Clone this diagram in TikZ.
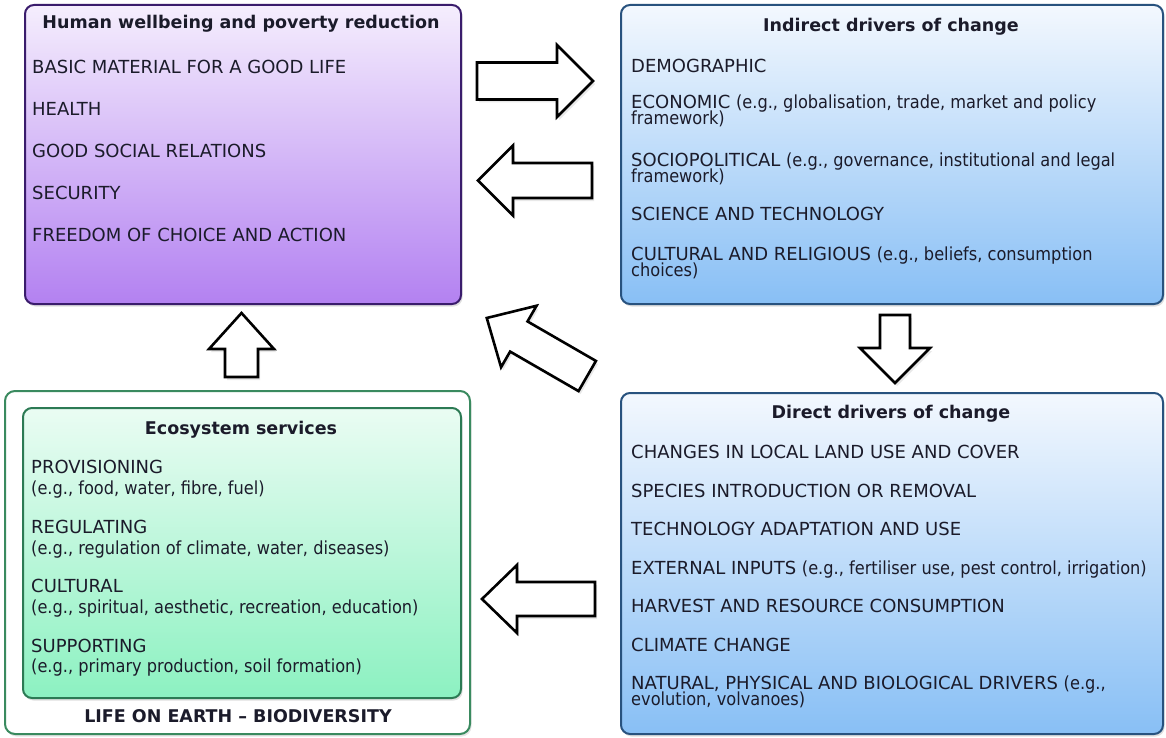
\documentclass[tikz,border=0pt]{standalone}
\usepackage{fontspec}
\setmainfont{DejaVu Sans}
\newfontfamily\narrowfont[FakeStretch=0.9]{DejaVu Sans}
\usetikzlibrary{shadows}

\definecolor{txt}{HTML}{1B1B2A}
\definecolor{purpEdge}{HTML}{3A1C6C}
\definecolor{purpTop}{HTML}{F5EEFD}
\definecolor{purpBot}{HTML}{B381F1}
\definecolor{blueEdge}{HTML}{28527E}
\definecolor{blueTop}{HTML}{F3F8FE}
\definecolor{blueBot}{HTML}{88BFF5}
\definecolor{greenEdge}{HTML}{2C7A54}
\definecolor{greenTop}{HTML}{EAFCF3}
\definecolor{greenBot}{HTML}{8CF1C1}
\definecolor{outerEdge}{HTML}{3A8A5F}

\newcommand\itemfont{\fontsize{18}{18}\selectfont}
\newcommand\hdrfont{\fontsize{17.5}{17.5}\selectfont\bfseries}
% lower-case remarks are set a little narrower than the capitals
\newcommand\lc[1]{{\narrowfont #1}}

% block arrow: #1 centre, #2 direction angle, #3 length,
% #4 half shaft width, #5 half head width, #6 head length
\newcommand\blockarr[6]{%
  \begin{scope}[shift={#1}, rotate=#2]
    \draw[blockarrow] (-#3/2,-#4) -- (#3/2-#6,-#4) -- (#3/2-#6,-#5) -- (#3/2,0)
      -- (#3/2-#6,#5) -- (#3/2-#6,#4) -- (-#3/2,#4) -- cycle;
  \end{scope}}

\begin{document}
\begin{tikzpicture}[x=1pt, y=-1pt,
  panel/.style={rounded corners=9pt, line width=2pt, inner sep=0pt, anchor=north west,
    drop shadow={opacity=0.25, shadow xshift=1.5pt, shadow yshift=-2.5pt}},
  purplebox/.style={panel, draw=purpEdge, top color=purpTop, bottom color=purpBot},
  bluebox/.style={panel, draw=blueEdge, top color=blueTop, bottom color=blueBot},
  greenbox/.style={panel, draw=greenEdge, top color=greenTop, bottom color=greenBot},
  outerbox/.style={rounded corners=10pt, line width=2pt, inner sep=0pt, anchor=north west,
    draw=outerEdge, fill=white,
    drop shadow={opacity=0.2, shadow xshift=1.5pt, shadow yshift=-2.5pt}},
  itm/.style={anchor=base west, inner sep=0pt, font=\itemfont, text=txt},
  hdr/.style={anchor=base, inner sep=0pt, font=\hdrfont, text=txt},
  blockarrow/.style={draw=black, line width=2.6pt, fill=white, line join=miter,
    drop shadow={opacity=0.18, shadow xshift=2pt, shadow yshift=-3pt}}]

\useasboundingbox (0,0) rectangle (1166,738);
\fill[white] (0,0) rectangle (1166,738);

% ---------- panels ----------
\node[purplebox, minimum width=436pt, minimum height=299pt] (hw) at (24,4) {};
\node[bluebox, minimum width=542pt, minimum height=299pt] (ind) at (620,4) {};
\node[outerbox, minimum width=465pt, minimum height=343pt] (life) at (4,390) {};
\node[greenbox, minimum width=438pt, minimum height=290pt] (eco) at (22,407) {};
\node[bluebox, minimum width=542pt, minimum height=341pt] (dir) at (620,392) {};

% ---------- human wellbeing ----------
\node[hdr] (hwT) at (241,28.5) {Human wellbeing and poverty reduction};
\node[itm] (hw1) at (32,73.5) {BASIC MATERIAL FOR A GOOD LIFE};
\node[itm] (hw2) at (32,115.5) {HEALTH};
\node[itm] (hw3) at (32,157.5) {GOOD SOCIAL RELATIONS};
\node[itm] (hw4) at (32,199.5) {SECURITY};
\node[itm] (hw5) at (32,241.5) {FREEDOM OF CHOICE AND ACTION};

% ---------- indirect drivers ----------
\node[hdr] (indT) at (891,31.5) {Indirect drivers of change};
\node[itm] (in1) at (631,72.5) {DEMOGRAPHIC};
\node[itm] (in2) at (631,108.5) {ECONOMIC \lc{(e.g., globalisation, trade, market and policy}};
\node[itm] (in2b) at (631,124.5) {\lc{framework)}};
\node[itm] (in3) at (631,166.5) {SOCIOPOLITICAL \lc{(e.g., governance, institutional and legal}};
\node[itm] (in3b) at (631,182.5) {\lc{framework)}};
\node[itm] (in4) at (631,220.5) {SCIENCE AND TECHNOLOGY};
\node[itm] (in5) at (631,260.5) {CULTURAL AND RELIGIOUS \lc{(e.g., beliefs, consumption}};
\node[itm] (in5b) at (631,276.5) {\lc{choices)}};

% ---------- direct drivers ----------
\node[hdr] (dirT) at (891,418.5) {Direct drivers of change};
\node[itm] (d1) at (631,458.5) {CHANGES IN LOCAL LAND USE AND COVER};
\node[itm] (d2) at (631,497.5) {SPECIES INTRODUCTION OR REMOVAL};
\node[itm] (d3) at (631,535.5) {TECHNOLOGY ADAPTATION AND USE};
\node[itm] (d4) at (631,574.5) {EXTERNAL INPUTS \lc{(e.g., fertiliser use, pest control, irrigation)}};
\node[itm] (d5) at (631,612.5) {HARVEST AND RESOURCE CONSUMPTION};
\node[itm] (d6) at (631,651.5) {CLIMATE CHANGE};
\node[itm] (d7) at (631,689.5) {NATURAL, PHYSICAL AND BIOLOGICAL DRIVERS \lc{(e.g.,}};
\node[itm] (d7b) at (631,705.5) {\lc{evolution, volvanoes)}};

% ---------- ecosystem services ----------
\node[hdr] (ecoT) at (241,434.5) {Ecosystem services};
\node[itm] (e1) at (31,473.5) {PROVISIONING};
\node[itm] (e1b) at (31,494) {\lc{(e.g., food, water, fibre, fuel)}};
\node[itm] (e2) at (31,533.5) {REGULATING};
\node[itm] (e2b) at (31,554) {\lc{(e.g., regulation of climate, water, diseases)}};
\node[itm] (e3) at (31,592.5) {CULTURAL};
\node[itm] (e3b) at (31,613) {\lc{(e.g., spiritual, aesthetic, recreation, education)}};
\node[itm] (e4) at (31,652.5) {SUPPORTING};
\node[itm] (e4b) at (31,672.5) {\lc{(e.g., primary production, soil formation)}};
\node[hdr] (lifeT) at (238,722) {LIFE ON EARTH – BIODIVERSITY};

% ---------- block arrows between the panels ----------
\blockarr{(535,81)}{0}{116}{18.5}{36}{36}
\blockarr{(535,180.5)}{180}{114}{17.5}{35}{35}
\blockarr{(241.5,345)}{90}{64}{16.5}{32.5}{36}
\blockarr{(537,347)}{150}{116}{17.4}{35.5}{37}
\blockarr{(895,349)}{-90}{68}{15}{35}{35}
\blockarr{(538.5,599)}{180}{113}{17}{34}{35}

\end{tikzpicture}
\end{document}
